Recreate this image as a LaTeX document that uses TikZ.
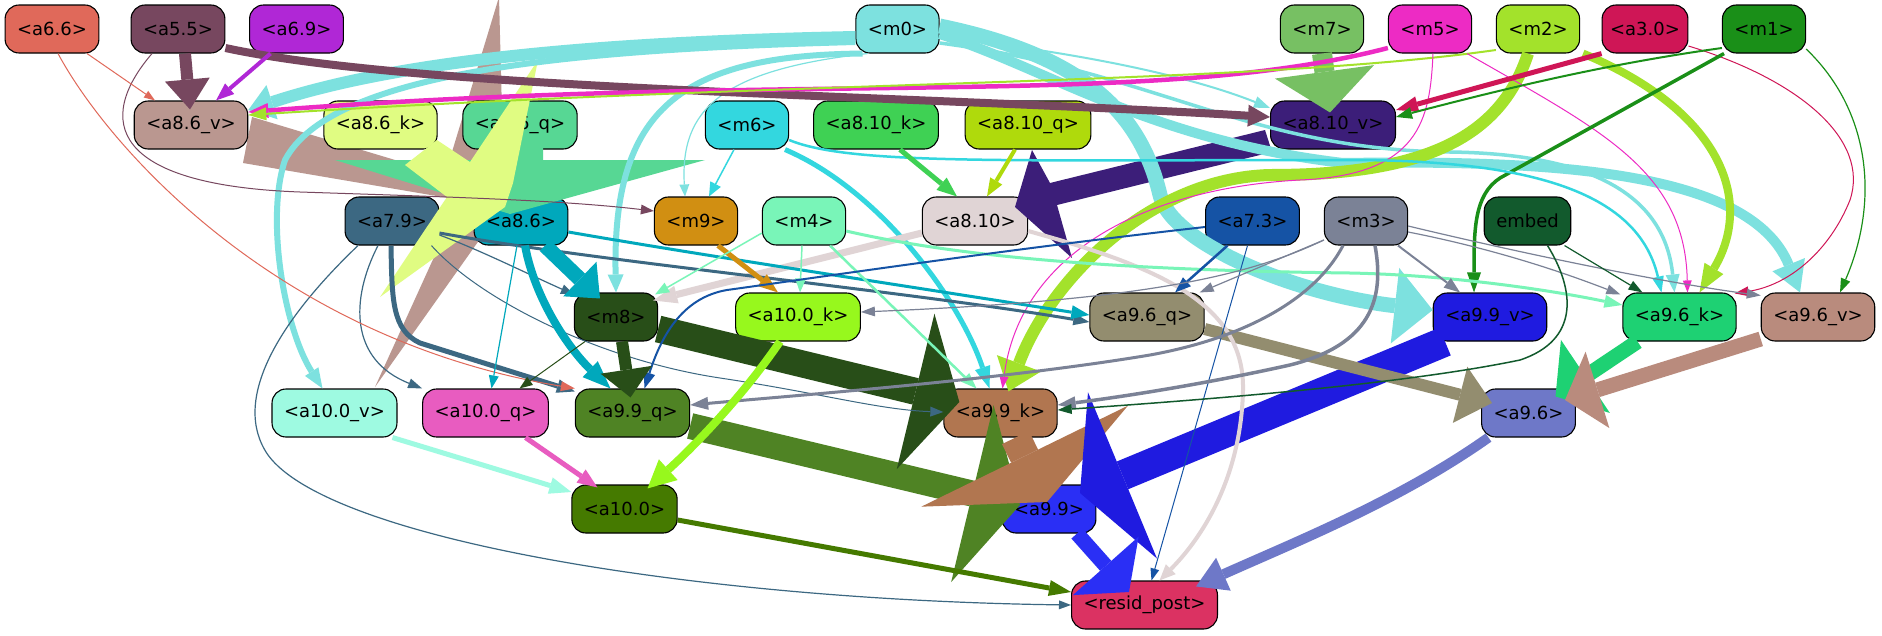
\documentclass[tikz,border=0pt]{standalone}
\usepackage{fontspec}
\setmainfont{DejaVu Sans}
\usetikzlibrary{arrows.meta}
\definecolor{cA66}{HTML}{E0695A}
\definecolor{cA55}{HTML}{77475F}
\definecolor{cA69}{HTML}{B027D6}
\definecolor{cM0}{HTML}{7DE1DF}
\definecolor{cM7}{HTML}{77C063}
\definecolor{cM5}{HTML}{ED2BC4}
\definecolor{cM2}{HTML}{A3E22B}
\definecolor{cA30}{HTML}{CF1656}
\definecolor{cM1}{HTML}{1A8F18}
\definecolor{cA86v}{HTML}{BA9790}
\definecolor{cA86k}{HTML}{E0FC82}
\definecolor{cA86q}{HTML}{57D794}
\definecolor{cM6}{HTML}{33D7DF}
\definecolor{cA810k}{HTML}{3FD154}
\definecolor{cA810q}{HTML}{AFDA0C}
\definecolor{cA810v}{HTML}{3C1E79}
\definecolor{cA79}{HTML}{3C6882}
\definecolor{cA86}{HTML}{00A8BC}
\definecolor{cM9}{HTML}{D18F12}
\definecolor{cM4}{HTML}{79F5B8}
\definecolor{cA810}{HTML}{E0D4D5}
\definecolor{cA73}{HTML}{1553A5}
\definecolor{cM3}{HTML}{7B8296}
\definecolor{cEmb}{HTML}{125A2D}
\definecolor{cM8}{HTML}{284E18}
\definecolor{cA100k}{HTML}{97F81D}
\definecolor{cA96q}{HTML}{938D6F}
\definecolor{cA99v}{HTML}{1F1BE0}
\definecolor{cA96k}{HTML}{1ED173}
\definecolor{cA96v}{HTML}{B98B7D}
\definecolor{cA100v}{HTML}{9EFAE1}
\definecolor{cA100q}{HTML}{E85CC0}
\definecolor{cA99q}{HTML}{4F8324}
\definecolor{cA99k}{HTML}{B17650}
\definecolor{cA96}{HTML}{6E78C8}
\definecolor{cA100}{HTML}{457A00}
\definecolor{cA99}{HTML}{2A2FF5}
\definecolor{cRP}{HTML}{DB3262}
\begin{document}
\begin{tikzpicture}[x=1pt,y=-1pt,
  nbox/.style={draw=black, line width=1.1pt, rounded corners=14pt, minimum height=48pt,
    inner xsep=12pt, inner ysep=0pt, font=\fontsize{18}{21.6}\selectfont, text=black},
  edg/.style n args={4}{draw=#1, line width=#2pt, line cap=butt,
    -{Triangle[length=#3pt,width=#4pt,line width=0pt]}}]
\fill[white] (0,0) rectangle (1882,635);
\useasboundingbox (0,0) rectangle (1882,635);
\clip (0,0) rectangle (1882,635);

% a8.6_v -> a10.0_v (under nodes)
\fill[cA86v] (252,117) -- (445,175) -- (499,-3) -- (503,150) -- (497,215) -- (375,387) -- (460,200) -- (243,163) -- cycle;

% nodes
\node[nbox, fill=cA66] (a66) at (52,29) {<a6.6>};
\node[nbox, fill=cA55] (a55) at (178,29) {<a5.5>};
\node[nbox, fill=cA69] (a69) at (296.5,29) {<a6.9>};
\node[nbox, fill=cM0] (m0) at (897.5,29) {<m0>};
\node[nbox, fill=cM7] (m7) at (1322,29) {<m7>};
\node[nbox, fill=cM5] (m5) at (1430,29) {<m5>};
\node[nbox, fill=cM2] (m2) at (1538,29) {<m2>};
\node[nbox, fill=cA30, inner xsep=8pt] (a30) at (1645,29) {<a3.0>};
\node[nbox, fill=cM1] (m1) at (1764,29) {<m1>};
\node[nbox, fill=cA86v] (a86v) at (191,125) {<a8.6\_v>};
\node[nbox, fill=cA86k] (a86k) at (380.5,125) {<a8.6\_k>};
\node[nbox, fill=cA86q] (a86q) at (520,125) {<a8.6\_q>};
\node[nbox, fill=cM6] (m6) at (747,125) {<m6>};
\node[nbox, fill=cA810k] (a810k) at (876,125) {<a8.10\_k>};
\node[nbox, fill=cA810q] (a810q) at (1028,125) {<a8.10\_q>};
\node[nbox, fill=cA810v] (a810v) at (1333,125) {<a8.10\_v>};
\node[nbox, fill=cA79] (a79) at (392,221) {<a7.9>};
\node[nbox, fill=cA86] (a86) at (521,221) {<a8.6>};
\node[nbox, fill=cM9] (m9) at (696,221) {<m9>};
\node[nbox, fill=cM4] (m4) at (804,221) {<m4>};
\node[nbox, fill=cA810] (a810) at (975,221) {<a8.10>};
\node[nbox, fill=cA73] (a73) at (1252.5,221) {<a7.3>};
\node[nbox, fill=cM3] (m3) at (1366,221) {<m3>};
\node[nbox, fill=cEmb] (emb) at (1527.5,221) {embed};
\node[nbox, fill=cM8] (m8) at (616,317) {<m8>};
\node[nbox, fill=cA100k] (a100k) at (798,317) {<a10.0\_k>};
\node[nbox, fill=cA96q] (a96q) at (1147,317) {<a9.6\_q>};
\node[nbox, fill=cA99v] (a99v) at (1490,317) {<a9.9\_v>};
\node[nbox, fill=cA96k] (a96k) at (1679.5,317) {<a9.6\_k>};
\node[nbox, fill=cA96v] (a96v) at (1818,317) {<a9.6\_v>};
\node[nbox, fill=cA100v] (a100v) at (334.5,413) {<a10.0\_v>};
\node[nbox, fill=cA100q] (a100q) at (485.5,413) {<a10.0\_q>};
\node[nbox, fill=cA99q] (a99q) at (632.5,413) {<a9.9\_q>};
\node[nbox, fill=cA99k] (a99k) at (1000.5,413) {<a9.9\_k>};
\node[nbox, fill=cA96] (a96) at (1528.5,413) {<a9.6>};
\node[nbox, fill=cA100] (a100) at (624.5,509) {<a10.0>};
\node[nbox, fill=cA99] (a99) at (1049,509) {<a9.9>};
\node[nbox, fill=cRP] (rp) at (1144.5,605) {<resid\_post>};

% big distorted arrows
\fill[cA86q] (335,160) -- (507,160) -- (507,148) -- (543,148) -- (543,160) -- (705,160) -- (510,214) -- cycle;
\fill[cA86k] (405,165) -- (437,140) -- (470,162) -- (538,60) -- (513,183) -- (505,207) -- (380,297) -- (447,197) -- cycle;
\fill[cA810v] (1265,130) -- (1050,183) -- (1032,150) -- (1015,207) -- (1072,258) -- (1057,205) -- (1272,152) -- cycle;

\draw[edg={cA99q}{26}{49}{182}] ([yshift=-13pt]a99q.east) -- ([xshift=-29pt,yshift=4pt]a99.center);
\draw[edg={cM8}{27}{45}{160}] ([yshift=-12pt]m8.east) -- ([xshift=16pt,yshift=11pt]a99k.west);
\draw[edg={cA99k}{30}{51}{230}] ([xshift=15pt]a99k.south) -- ([xshift=-2pt,yshift=7pt]a99.center);
\draw[edg={cA99v}{30}{46}{180}] ([xshift=-45pt]a99v.south) -- ([xshift=31pt,yshift=16pt]a99.center);
\draw[edg={cA99}{15}{35}{88}] ([xshift=28pt]a99.south) -- ([xshift=-15.5pt,yshift=13pt]rp.center);
\draw[edg={cA96q}{12}{33}{58}] ([yshift=-12pt]a96q.east) -- ([xshift=11pt,yshift=10pt]a96.west);
\draw[edg={cA96k}{15}{36}{88}] ([xshift=-42pt]a96k.south) -- ([xshift=27pt,yshift=-8pt]a96.north);
\draw[edg={cA96v}{15}{34}{80}] ([yshift=-22pt]a96v.west) -- ([xshift=36.5pt,yshift=13pt]a96.center);
\draw[edg={cA96}{10}{30}{36}] ([xshift=-40pt]a96.south) .. controls (1400,500) and (1300,540) .. ([xshift=-22pt,yshift=-6pt]rp.north east);

% m0 edges
\draw[edg={cM0}{12}{25}{36}] ([yshift=-8pt]m0.west) .. controls (600,42) and (400,60) .. ([yshift=15pt]a86v.east);
\draw[edg={cM0}{6}{20}{16}] ([yshift=-13pt]m0.west) .. controls (550,50) and (330,75) .. (285,160) .. controls (265,220) and (285,330) .. ([xshift=-12pt]a100v.north);
\draw[edg={cM0}{6}{18}{16}] ([xshift=-35pt]m0.south) .. controls (680,55) and (612,110) .. (m8.north);
\draw[edg={cM0}{1.2}{12}{10}] ([xshift=-30pt]m0.south) .. controls (720,70) and (680,110) .. ([xshift=-11pt]m9.north);
\draw[edg={cM0}{15}{38}{76}] ([yshift=3pt]m0.east) .. controls (1080,55) and (1140,110) .. (1160,195) .. controls (1172,245) and (1300,295) .. ([yshift=7pt]a99v.west);
\draw[edg={cM0}{10}{30}{35}] ([yshift=-5pt]m0.east) .. controls (1050,70) and (1150,140) .. (1343,163) .. controls (1550,160) and (1750,170) .. ([xshift=-18pt]a96v.north);
\draw[edg={cM0}{3.5}{18}{14}] ([yshift=-14pt]m0.east) .. controls (1150,70) and (1250,150) .. (1450,152) .. controls (1600,154) and (1665,200) .. ([xshift=-5pt]a96k.north);
\draw[edg={cM0}{2}{16}{12}] ([yshift=-8pt]m0.east) .. controls (1100,55) and (1200,80) .. ([yshift=17pt]a810v.west);

% top row edges
\draw[edg={cA55}{12}{30}{45}] ([xshift=7pt]a55.south) -- ([xshift=-1pt,yshift=-9pt]a86v.north);
\draw[edg={cA55}{8}{22}{22}] ([yshift=-19pt]a55.east) .. controls (420,90) and (900,95) .. ([yshift=8pt]a810v.west);
\draw[edg={cA55}{1}{13}{10}] ([xshift=-26pt]a55.south) .. controls (95,120) and (110,185) .. (300,192) .. controls (450,197) and (560,200) .. ([yshift=10pt]m9.west);
\draw[edg={cA69}{4}{18}{14}] ([xshift=-26pt]a69.south) -- ([xshift=25pt]a86v.north);
\draw[edg={cA66}{1}{11}{8}] ([xshift=35pt]a66.south) -- ([xshift=-36pt]a86v.north);
\draw[edg={cM7}{20}{41}{100}] (m7.south) -- ([xshift=-3pt,yshift=-12pt]a810v.north);
\draw[edg={cM5}{4.5}{20}{15}] ([yshift=-19pt]m5.west) .. controls (1150,110) and (800,70) .. ([yshift=13pt]a86v.east);
\draw[edg={cM2}{2}{18}{13}] ([yshift=-21pt]m2.west) .. controls (1250,85) and (800,80) .. ([yshift=10pt]a86v.east);
\draw[edg={cM2}{12}{30}{47}] ([xshift=-10pt]m2.south) .. controls (1500,140) and (1420,175) .. (1270,175) .. controls (1150,178) and (1050,280) .. ([xshift=8pt,yshift=-3pt]a99k.north);
\draw[edg={cM2}{8}{28}{22}] ([xshift=45pt]m2.south) .. controls (1720,110) and (1755,200) .. ([xshift=20pt]a96k.north);
\draw[edg={cM5}{1}{12}{9}] ([xshift=3pt]m5.south) .. controls (1430,120) and (1420,175) .. (1300,180) .. controls (1150,188) and (1020,250) .. ([xshift=2pt]a99k.north);
\draw[edg={cM5}{1}{12}{9}] ([xshift=-5pt]m5.south east) .. controls (1600,130) and (1685,170) .. ([xshift=8pt]a96k.north);
\draw[edg={cA30}{5}{22}{16}] (a30.south west) -- ([yshift=15pt]a810v.east);
\draw[edg={cA30}{1}{14}{10}] ([yshift=-17pt]a30.east) .. controls (1800,80) and (1870,140) .. (1850,200) .. controls (1830,250) and (1790,285) .. ([xshift=-2pt,yshift=-1pt]a96k.north east);
\draw[edg={cM1}{2}{16}{12}] ([yshift=-19pt]m1.west) .. controls (1600,65) and (1500,90) .. ([yshift=8pt]a810v.east);
\draw[edg={cM1}{1.2}{14}{10}] ([yshift=-20pt]m1.east) .. controls (1870,110) and (1880,200) .. ([xshift=22pt]a96v.north);
\draw[edg={cM1}{3.5}{20}{14}] ([xshift=-40pt]m1.south) -- (1500,178) .. controls (1474,195) and (1474,230) .. ([xshift=-16pt]a99v.north);

% row 2 edges
\draw[edg={cM6}{1.5}{14}{12}] ([xshift=-13pt]m6.south) -- ([xshift=13pt]m9.north);
\draw[edg={cM6}{5}{22}{16}] ([xshift=38pt]m6.south) .. controls (880,190) and (960,300) .. ([xshift=-11pt]a99k.north);
\draw[edg={cM6}{2.5}{16}{12}] ([yshift=-15pt]m6.east) .. controls (850,165) and (1000,160) .. (1350,160) .. controls (1550,160) and (1640,200) .. ([xshift=-18pt]a96k.north);
\draw[edg={cA810k}{5}{20}{16}] ([xshift=24pt]a810k.south) -- ([xshift=-18pt]a810.north);
\draw[edg={cA810q}{4}{18}{14}] ([xshift=-13pt]a810q.south) -- ([xshift=12pt]a810.north);

% row 3 edges
\draw[edg={cA810}{7}{24}{18}] ([yshift=-12pt]a810.west) -- ([xshift=-5pt,yshift=-8pt]m8.north east);
\draw[edg={cA810}{4}{16}{14}] ([yshift=-10pt]a810.east) .. controls (1150,265) and (1245,300) .. (1243,390) .. controls (1241,480) and (1200,540) .. ([xshift=15pt]rp.north);
\draw[edg={cA79}{1.2}{12}{9}] ([xshift=-34pt]a79.south) .. controls (280,320) and (230,400) .. (268,455) .. controls (330,540) and (700,600) .. (rp.west);
\draw[edg={cA79}{1.2}{14}{10}] ([xshift=-14pt]a79.south) .. controls (350,300) and (350,360) .. (a100q.north west);
\draw[edg={cA79}{5}{18}{14}] ([xshift=-1pt]a79.south) .. controls (392,300) and (392,330) .. (420,343) -- ([yshift=-3pt]a99q.north west);
\draw[edg={cA66}{1}{14}{10}] ([xshift=6pt]a66.south) .. controls (110,150) and (280,340) .. (a99q.north west);
\draw[edg={cA79}{1.2}{13}{10}] ([yshift=-14pt]a79.east) .. controls (480,250) and (530,275) .. ([yshift=-2pt]m8.north west);
\draw[edg={cA79}{3}{16}{12}] ([yshift=-12pt]a79.east) .. controls (600,262) and (900,290) .. ([yshift=-5pt]a96q.west);
\draw[edg={cA79}{1}{13}{10}] ([xshift=-8pt]a79.south east) .. controls (480,300) and (600,360) .. (720,378) .. controls (820,393) and (880,410) .. ([yshift=1pt]a99k.west);
\draw[edg={cA86}{15}{28}{48}] ([xshift=24pt]a86.south) -- ([xshift=-16pt,yshift=-6pt]m8.north);
\draw[edg={cA86}{8}{28}{22}] ([xshift=4pt]a86.south) .. controls (535,300) and (570,350) .. ([xshift=-22pt]a99q.north);
\draw[edg={cA86}{1.2}{13}{10}] ([xshift=-4pt]a86.south) -- ([xshift=6pt]a100q.north);
\draw[edg={cA86}{3}{18}{14}] ([yshift=-11pt]a86.east) .. controls (700,255) and (900,285) .. ([yshift=2pt]a96q.west);
\draw[edg={cM9}{5}{20}{15}] ([xshift=22pt]m9.south) -- ([xshift=-20pt]a100k.north);
\draw[edg={cM4}{1.5}{14}{11}] ([yshift=-12pt]m4.west) -- ([xshift=-3pt,yshift=-2pt]m8.north east);
\draw[edg={cM4}{1.5}{14}{11}] ([xshift=-2pt]m4.south) -- ([xshift=2pt]a100k.north);
\draw[edg={cM4}{2.5}{16}{12}] ([xshift=26pt]m4.south) -- ([xshift=-24pt]a99k.north);
\draw[edg={cM4}{3}{18}{13}] ([yshift=-10pt]m4.east) .. controls (950,255) and (1100,270) .. (1350,273) .. controls (1450,275) and (1550,290) .. ([yshift=12pt]a96k.west);
\draw[edg={cA73}{2.5}{16}{12}] ([xshift=-25pt]a73.south) -- ([xshift=28pt]a96q.north);
\draw[edg={cA73}{1}{12}{9}] ([xshift=-5pt]a73.south) -- ([xshift=7pt]rp.north);
\draw[edg={cA73}{2}{16}{12}] ([yshift=-6pt]a73.west) .. controls (1000,250) and (800,280) .. (727,290) .. controls (680,298) and (660,340) .. ([xshift=12pt]a99q.north);
\draw[edg={cM3}{1.2}{14}{10}] ([yshift=-19pt]m3.west) .. controls (1250,275) and (1150,300) .. ([yshift=5pt]a100k.east);
\draw[edg={cM3}{1.2}{14}{10}] ([yshift=-19pt]m3.west) -- ([xshift=-5pt]a96q.north east);
\draw[edg={cM3}{3}{18}{13}] ([xshift=-23pt]m3.south) .. controls (1320,290) and (1260,335) .. (1150,355) .. controls (1000,380) and (800,395) .. ([yshift=8pt]a99q.east);
\draw[edg={cM3}{3.5}{18}{13}] ([xshift=9pt]m3.south) .. controls (1385,300) and (1370,345) .. (1290,365) .. controls (1200,385) and (1120,397) .. ([yshift=8pt]a99k.east);
\draw[edg={cM3}{2}{16}{12}] ([xshift=32pt]m3.south) -- ([xshift=-30pt]a99v.north);
\draw[edg={cM3}{1.2}{14}{10}] ([yshift=-11pt]m3.east) .. controls (1500,250) and (1570,275) .. ([xshift=-2pt,yshift=-2pt]a96k.north west);
\draw[edg={cM3}{1.2}{14}{10}] ([yshift=-5pt]m3.east) .. controls (1550,260) and (1680,285) .. ([yshift=-3pt]a96v.north west);
\draw[edg={cEmb}{1.2}{14}{10}] ([xshift=37pt]emb.south) -- ([xshift=-37pt]a96k.north);
\draw[edg={cEmb}{1.5}{14}{10}] ([xshift=20pt]emb.south) .. controls (1575,290) and (1580,340) .. (1520,360) .. controls (1400,385) and (1200,400) .. ([yshift=3pt]a99k.east);

% row 4/5 edges
\draw[edg={cM8}{12}{28}{52}] ([xshift=6pt]m8.south) -- ([xshift=-2pt,yshift=-9pt]a99q.north);
\draw[edg={cM8}{1}{13}{10}] ([xshift=-31pt]m8.south) -- ([xshift=34pt]a100q.north);
\draw[edg={cA100k}{8}{28}{28}] ([xshift=-18pt]a100k.south) .. controls (740,400) and (690,450) .. ([xshift=23pt,yshift=-4pt]a100.north);
\draw[edg={cA100q}{5}{20}{16}] ([xshift=40pt]a100q.south) -- ([xshift=-27pt,yshift=-3pt]a100.north);
\draw[edg={cA100v}{5}{22}{17}] ([xshift=-5pt]a100v.south east) -- ([yshift=17pt]a100.west);
\draw[edg={cA100}{5}{22}{16}] ([yshift=-11pt]a100.east) -- ([yshift=13pt]rp.west);
\end{tikzpicture}
\end{document}
